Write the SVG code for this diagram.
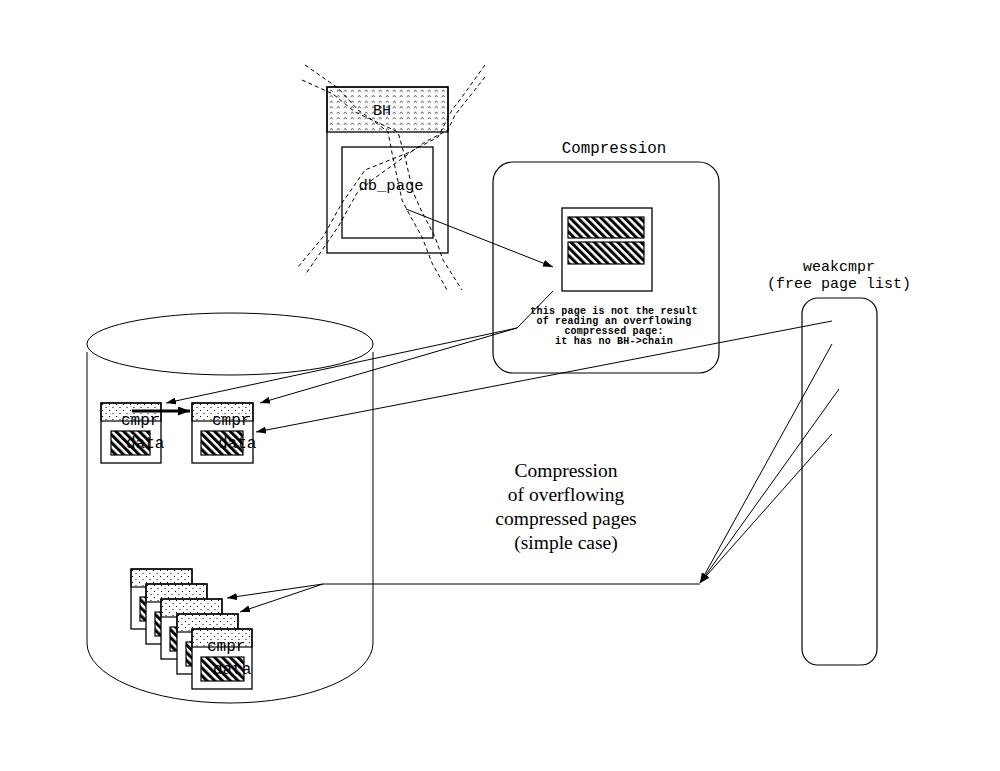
<svg xmlns="http://www.w3.org/2000/svg" width="1000" height="771" viewBox="0 0 1000 771">
<style>
.ln{fill:none;stroke:#000;stroke-width:1}
.box{fill:#fff;stroke:#000;stroke-width:1.3}
.dash{fill:none;stroke:#000;stroke-width:1;stroke-dasharray:4 3}
.mono{font-family:"Liberation Mono","DejaVu Sans Mono",monospace;fill:#000}
.serif{font-family:"Liberation Serif","Times New Roman",serif;fill:#000}
.arr{fill:none;stroke:#000;stroke-width:1;marker-end:url(#ah)}
.band{fill:url(#dots);stroke:#000;stroke-width:1.2}
.hat{fill:url(#hatch);stroke:#000;stroke-width:1.2}
</style>
<defs>
<pattern id="dots" width="7" height="6" patternUnits="userSpaceOnUse">
<rect x="1" y="1" width="1" height="1" fill="#000"/>
<rect x="4.5" y="4" width="1" height="1" fill="#000"/>
</pattern>
<pattern id="carets" width="7" height="5.5" patternUnits="userSpaceOnUse">
<path d="M0.8,3.8 L2.3,1.8 L3.8,3.8" fill="none" stroke="#000" stroke-width="0.6"/>
</pattern>
<pattern id="hatch" width="5.5" height="6" patternUnits="userSpaceOnUse" patternTransform="rotate(-45)">
<rect x="0" y="0" width="3" height="6" fill="#000"/>
</pattern>
<marker id="ah" markerWidth="10" markerHeight="7" refX="10" refY="3.5" orient="auto" markerUnits="userSpaceOnUse">
<path d="M0,0 L10,3.5 L0,7 z" fill="#000"/>
</marker>
<marker id="ahb" markerWidth="12" markerHeight="9" refX="12" refY="4.5" orient="auto" markerUnits="userSpaceOnUse">
<path d="M0,0 L12,4.5 L0,9 z" fill="#000"/>
</marker>
</defs>
<rect width="1000" height="771" fill="#fff"/>

<!-- cylinder (disk) -->
<g id="disk">
<ellipse cx="230" cy="344" rx="143" ry="31" class="ln"/>
<path d="M87,352 L87,643 A143,60 0 0 0 373,643 L373,352" class="ln"/>
</g>

<!-- BH / db_page -->
<g id="bh">
<rect x="327" y="87" width="121" height="166" class="box"/>
<rect x="327" y="87" width="121" height="45" fill="url(#carets)" stroke="#000" stroke-width="1.3"/>
<text x="382" y="115" class="mono" font-size="15" text-anchor="middle">BH</text>
<rect x="342" y="147" width="91" height="91" fill="none" stroke="#000" stroke-width="1.3"/>
<text x="391" y="190" class="mono" font-size="15.5" text-anchor="middle">db_page</text>
</g>
<g id="cross">
<polyline class="dash" points="305,65 338,88 358,110 375,122 388,132 392,153 402,200 407,210 422,237 432,263 447,290"/>
<polyline class="dash" points="302,80 333,94 355,112 398,132 405,157 413,192 422,212 435,237 443,260 462,290"/>
<polyline class="dash" points="485,65 462,97 452,110 438,137 410,152 365,170 342,203 323,237 298,267"/>
<polyline class="dash" points="485,77 455,115 448,130 425,142 372,180 357,193 338,227 305,275"/>
</g>

<!-- Compression box -->
<g id="compression">
<text x="614" y="153" class="mono" font-size="15.8" text-anchor="middle">Compression</text>
<rect x="493" y="162" width="226" height="211" rx="20" ry="20" fill="none" stroke="#000" stroke-width="1.2"/>
<rect x="562" y="208" width="90" height="83" fill="#fff" stroke="#000" stroke-width="1.3"/>
<rect x="568" y="217" width="76" height="21" class="hat"/>
<rect x="568" y="242" width="76" height="22" class="hat"/>
<g class="mono" font-size="10" font-weight="bold" text-anchor="middle" letter-spacing="0.2">
<text x="614" y="314">this page is not the result</text>
<text x="614" y="324">of reading an overflowing</text>
<text x="614" y="334">compressed page:</text>
<text x="614" y="344">it has no BH-&gt;chain</text>
</g>
</g>

<!-- weakcmpr list -->
<g id="weakcmpr">
<text x="839" y="271" class="mono" font-size="15" text-anchor="middle">weakcmpr</text>
<text x="839" y="288" class="mono" font-size="15" text-anchor="middle">(free page list)</text>
<rect x="802" y="298" width="75" height="367" rx="16" ry="16" fill="none" stroke="#000" stroke-width="1.2"/>
</g>

<!-- cmpr pages -->
<g id="page1" transform="translate(101,403)">
<rect x="0" y="0" width="60" height="60" class="box"/>
<rect x="0" y="0" width="60" height="18" class="band"/>
<text x="20" y="22" class="mono" font-size="16">cmpr</text>
<text x="25" y="45" class="mono" font-size="16">data</text>
<rect x="10" y="28" width="39" height="24" class="hat"/>
</g>
<g id="page2" transform="translate(192,403)">
<rect x="0" y="0" width="61" height="60" class="box"/>
<rect x="0" y="0" width="61" height="18" class="band"/>
<text x="20" y="22" class="mono" font-size="16">cmpr</text>
<text x="26" y="45" class="mono" font-size="16">data</text>
<rect x="9" y="28" width="42" height="24" class="hat"/>
</g>

<!-- stack of pages -->
<g id="stack1" transform="translate(131,569)">
<rect x="0" y="0" width="61" height="60" class="box"/>
<rect x="0" y="0" width="61" height="18" class="band"/>
<rect x="9" y="28" width="40" height="24" class="hat"/>
</g>
<g id="stack2" transform="translate(146,584)">
<rect x="0" y="0" width="61" height="60" class="box"/>
<rect x="0" y="0" width="61" height="18" class="band"/>
<rect x="9" y="28" width="40" height="24" class="hat"/>
</g>
<g id="stack3" transform="translate(161,599)">
<rect x="0" y="0" width="61" height="60" class="box"/>
<rect x="0" y="0" width="61" height="18" class="band"/>
<rect x="9" y="28" width="40" height="24" class="hat"/>
</g>
<g id="stack4" transform="translate(177,614)">
<rect x="0" y="0" width="61" height="60" class="box"/>
<rect x="0" y="0" width="61" height="18" class="band"/>
<rect x="9" y="28" width="40" height="24" class="hat"/>
</g>
<g id="stack5" transform="translate(192,629)">
<rect x="0" y="0" width="60" height="60" class="box"/>
<rect x="0" y="0" width="60" height="18" class="band"/>
<text x="15" y="22" class="mono" font-size="16">cmpr</text>
<text x="21" y="45" class="mono" font-size="16">data</text>
<rect x="9" y="28" width="43" height="24" class="hat"/>
</g>

<!-- big caption -->
<g id="caption" class="serif" font-size="19.5" text-anchor="middle">
<text x="566" y="477">Compression</text>
<text x="566" y="501">of overflowing</text>
<text x="566" y="525">compressed pages</text>
<text x="566" y="549">(simple case)</text>
</g>

<!-- connectors -->
<g id="connectors">
<polyline class="arr" points="406,209 553,267"/>
<polyline class="arr" points="553,291 517,328 166,403"/>
<polyline class="arr" points="517,328 260,403"/>
<polyline class="arr" points="832,321 256,432"/>
<line x1="132" y1="411" x2="190" y2="411" stroke="#000" stroke-width="3" marker-end="url(#ahb)"/>
<polyline class="arr" points="832,344 700,583"/>
<polyline class="arr" points="839,389 700,583"/>
<polyline class="arr" points="832,434 700,583"/>
<polyline class="ln" points="700,584 323,584"/>
<polyline class="arr" points="323,584 227,598"/>
<polyline class="arr" points="323,584 240,612"/>
</g>
</svg>
